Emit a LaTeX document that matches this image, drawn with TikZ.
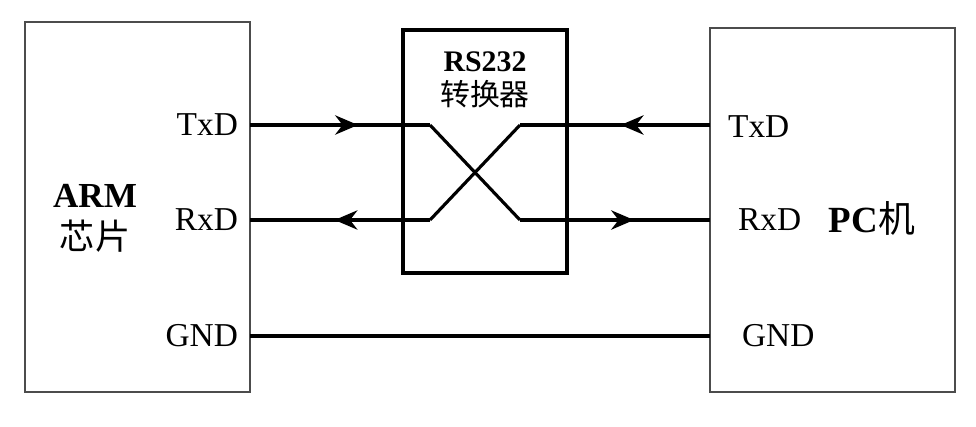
\documentclass[tikz,border=0pt]{standalone}
\usepackage{fontspec}
\setmainfont{Liberation Serif}
\newfontfamily\cjk{Noto Sans CJK SC}
\usetikzlibrary{decorations.markings,arrows.meta}
\tikzset{
  devbox/.style={draw=black!70,line width=0.6pt},
  pin/.style={font=\fontsize{19}{19}\selectfont,inner sep=1pt},
  wire/.style={line width=1.8pt},
  midarrow/.style={postaction={decorate},decoration={markings,
      mark=at position #1 with {\arrow{Stealth[length=13pt,width=11pt]}}}},
  midarrow/.default=0.5
}
\begin{document}
\begin{tikzpicture}[x=0.02cm,y=-0.02cm]
        \useasboundingbox (0,0) rectangle (976,426);

        % chip and PC
        \draw[devbox] (25,22) rectangle (250,392);
        \draw[devbox] (710,28) rectangle (955,392);
        \node[font=\bfseries\fontsize{20}{22}\selectfont,align=center] (arm) at (95,218) {ARM\\[2pt]{\cjk\mdseries 芯片}};
        \node[font=\fontsize{21}{22}\selectfont] (pc) at (872,218) {\textbf{PC}{\cjk 机}};

        % converter
        \draw[line width=2.2pt] (403,30) rectangle (567,273);
        \node[font=\fontsize{17}{19}\selectfont,align=center] (conv) at (485,80) {\textbf{RS232}\\{\cjk 转换器}};

        % pins
        \node[pin,anchor=east] (atx) at (240,125) {TxD};
        \node[pin,anchor=east] (arx) at (240,220) {RxD};
        \node[pin,anchor=east] (agnd) at (240,336) {GND};
        \node[pin,anchor=west] (ptx) at (726,127) {TxD};
        \node[pin,anchor=west] (prx) at (736,220) {RxD};
        \node[pin,anchor=west] (pgnd) at (740,336) {GND};

        \coordinate (al) at (250,125);
        \coordinate (bl) at (250,220);
        \coordinate (ar) at (710,125);
        \coordinate (br) at (710,220);
        \coordinate (gl) at (250,336);
        \coordinate (gr) at (710,336);
        \coordinate (k1) at (430,125);
        \coordinate (k2) at (520,220);
        \coordinate (k3) at (520,125);
        \coordinate (k4) at (430,220);

        % crossed wires
        \draw[wire,midarrow=0.6] (al) -- (k1);
        \draw[wire] (k1) -- (k2);
        \draw[wire,midarrow=0.6] (k2) -- (br);
        \draw[wire,midarrow=0.47] (ar) -- (k3);
        \draw[wire] (k3) -- (k4);
        \draw[wire,midarrow=0.53] (k4) -- (bl);
        \draw[wire] (gl) -- (gr);
\end{tikzpicture}
\end{document}
